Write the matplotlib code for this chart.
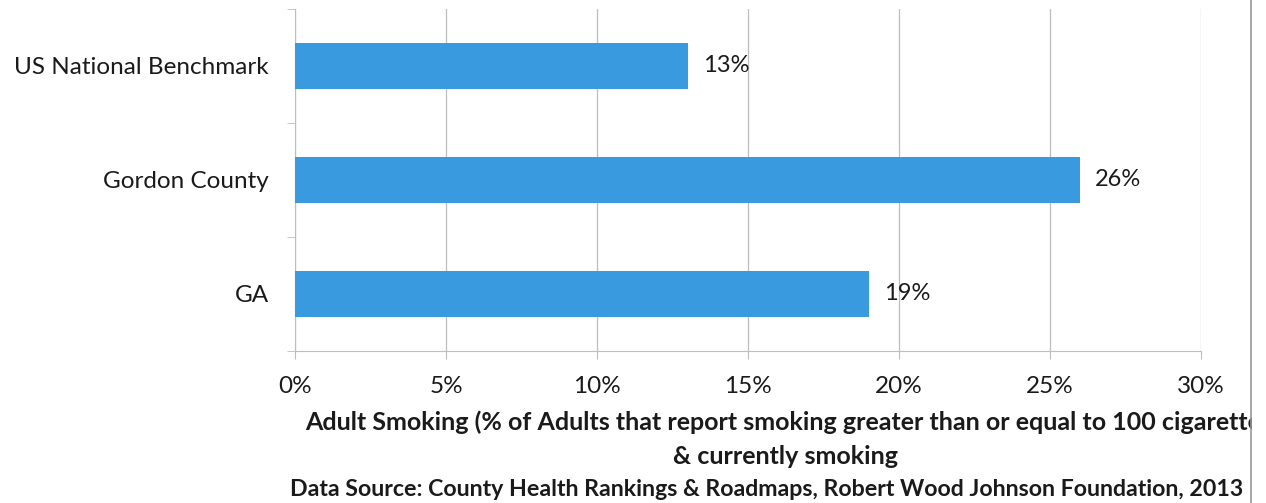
import numpy as np
import matplotlib.pyplot as plt
from matplotlib.ticker import FixedLocator

# -------------------------
# Data
# -------------------------

categories = ["GA", "Gordon County", "US National Benchmark"]
values = [19, 26, 13]
x_ticks = [0, 5, 10, 15, 20, 25, 30]

bar_color = "#3a9ae0"
grid_color = "#bdbdbd"
text_color = "#1a1a1a"

plt.rcParams["font.family"] = ["Lato", "DejaVu Sans"]

fig = plt.figure(figsize=(12.66, 5.03), dpi=100)
ax = fig.add_axes([295 / 1266, 1 - 351 / 503, (1201 - 295) / 1266, (351 - 9) / 503])

y = np.arange(len(categories))
ax.barh(y, values, height=0.4, color=bar_color, zorder=3)

for yi, v in zip(y, values):
    ax.text(v + 0.5, yi, f"{v}%", va="center", ha="left",
            fontsize=17, color=text_color, zorder=4)

ax.set_xlim(0, 30)
ax.set_ylim(-0.5, len(categories) - 0.5)
ax.set_xticks(x_ticks)
ax.set_xticklabels([f"{t}%" for t in x_ticks], fontsize=17.5, color=text_color)
ax.set_yticks(y)
ax.set_yticklabels(categories, fontsize=17.5, color=text_color)
ax.yaxis.set_minor_locator(FixedLocator([-0.5, 0.5, 1.5, 2.5]))
ax.tick_params(axis="y", which="major", length=0, pad=19)
ax.tick_params(axis="y", which="minor", length=6, color=grid_color)
ax.tick_params(axis="x", length=6, color=grid_color, pad=12)

ax.grid(axis="x", color=grid_color, linewidth=0.9, zorder=0)
for side in ["top", "right"]:
    ax.spines[side].set_visible(False)
for side in ["left", "bottom"]:
    ax.spines[side].set_color(grid_color)

fig.text(305 / 1266, 1 - 422 / 503,
         "Adult Smoking (% of Adults that report smoking greater than or equal to 100 cigarettes",
         ha="left", va="center", fontsize=18, fontweight="bold", color=text_color)
fig.text(785 / 1266, 1 - 456 / 503, "& currently smoking",
         ha="center", va="center", fontsize=18, fontweight="bold", color=text_color)
fig.text(290 / 1266, 1 - 490 / 503,
         "Data Source: County Health Rankings & Roadmaps, Robert Wood Johnson Foundation, 2013",
         ha="left", va="center", fontsize=16.7, fontweight="bold", color=text_color)

# cropped right edge of the scanned page
fig.patches.append(plt.Rectangle((1252 / 1266, 0), 14 / 1266, 1, transform=fig.transFigure,
                                 facecolor="white", edgecolor="none", zorder=10))
fig.lines.append(plt.Line2D([1251 / 1266, 1251 / 1266], [0, 1], transform=fig.transFigure,
                            color="#9a9a9a", linewidth=1.2, zorder=11))

fig.savefig("out.png", dpi=100)
